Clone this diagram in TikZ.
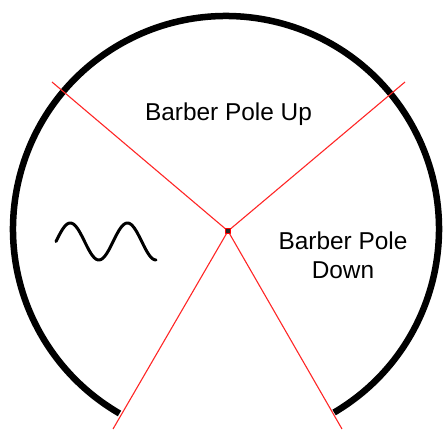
\documentclass[tikz,border=0pt]{standalone}
\usepackage{fontspec}
\setmainfont{Liberation Sans}
\begin{document}
\begin{tikzpicture}[declare function={cX = 226; cY = 200; cR = 213; sX = 56; sY = 187.5; sA = 18.5; sL = 100;},x=1pt,y=1pt,line join=round,
	redline/.style={red!85!white,line width=1.1pt},
	label/.style={font=\fontsize{24.4}{29}\selectfont,align=center,inner sep=0pt}]
	\useasboundingbox (0,0) rectangle (445,429);
	\begin{scope}
		\clip (0,0) rectangle (445,429);
		% outer ring, open at the bottom
		\draw[line width=6.5pt] (cX,cY) ++(-59.5:cR) arc[start angle=-59.5,end angle=240,radius=cR];
		% red dividers
		\node[draw=red,fill=black!85,line width=0.8pt,minimum size=5pt,inner sep=0pt] (hub) at (228,198) {};
		\coordinate (ul) at (52,347);
		\coordinate (ur) at (405,347);
		\coordinate (ll) at (113,0);
		\coordinate (lr) at (342,0);
		\foreach \e in {ul,ur,ll,lr}{
			\draw[redline] (hub) -- (\e);
		}
	\end{scope}
	% wave
	\draw[line width=3pt,line cap=round] plot[domain=0:630,samples=90,smooth] ({sX+\x/630*sL},{sY+sA*sin(\x)});
	\node[label] (up) at (228.5,315) {Barber Pole Up};
	\node[label] (down) at (343,174) {Barber Pole\\Down};
\end{tikzpicture}
\end{document}
